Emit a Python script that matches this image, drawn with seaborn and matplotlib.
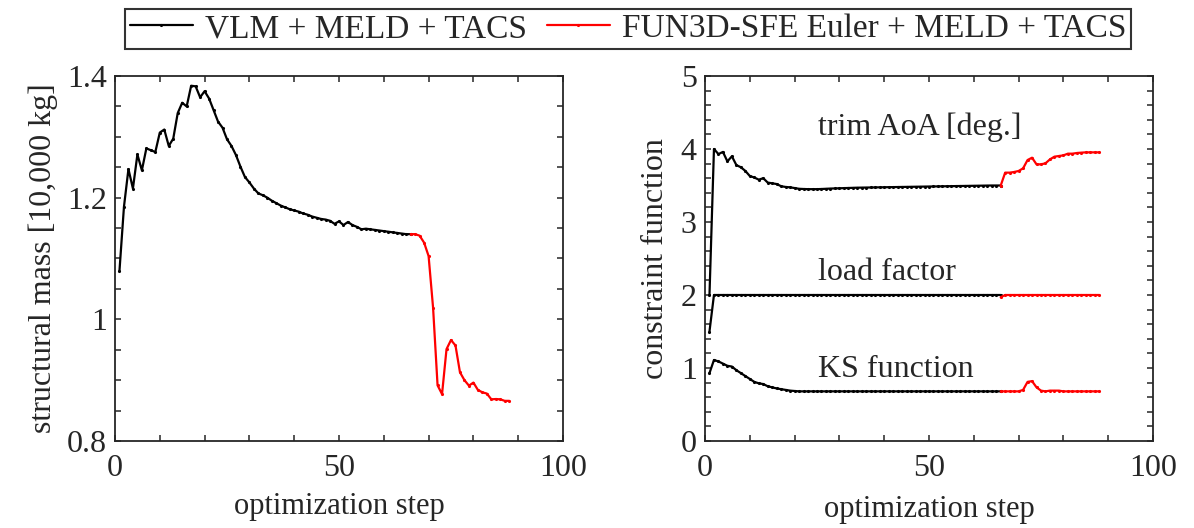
import numpy as np
import pandas as pd
import matplotlib
matplotlib.use("Agg")
import matplotlib.pyplot as plt
import seaborn as sns
from matplotlib.ticker import MultipleLocator

# ---------------- data ----------------
steps_vlm = list(range(1, 67))
steps_fun = list(range(66, 89))

mass_vlm = [1.080, 1.185, 1.247, 1.215, 1.271, 1.245, 1.281, 1.278, 1.275, 1.307,
            1.312, 1.285, 1.297, 1.339, 1.356, 1.350, 1.384, 1.383, 1.365, 1.375,
            1.363, 1.344, 1.325, 1.315, 1.296, 1.285, 1.270, 1.251, 1.234, 1.225,
            1.215, 1.207, 1.204, 1.200, 1.195, 1.191, 1.187, 1.184, 1.181, 1.179,
            1.177, 1.174, 1.172, 1.169, 1.167, 1.165, 1.164, 1.162, 1.157, 1.161,
            1.155, 1.160, 1.155, 1.152, 1.148, 1.149, 1.148, 1.147, 1.146, 1.145,
            1.144, 1.143, 1.142, 1.141, 1.140, 1.140]
mass_fun = [1.140, 1.140, 1.1375, 1.126, 1.104, 1.019, 0.8915, 0.877, 0.951, 0.966,
            0.957, 0.913, 0.900, 0.891, 0.896, 0.884, 0.880, 0.878, 0.8685, 0.869,
            0.8685, 0.866, 0.866]

aoa_vlm = [2.00, 4.00, 3.93, 3.96, 3.83, 3.90, 3.78, 3.75, 3.70, 3.63,
           3.61, 3.58, 3.60, 3.54, 3.53, 3.52, 3.49, 3.48, 3.475, 3.465,
           3.455, 3.452, 3.450, 3.450, 3.450, 3.452, 3.455, 3.458, 3.460, 3.462,
           3.464, 3.466, 3.468, 3.470, 3.471, 3.472, 3.473, 3.474, 3.475, 3.476,
           3.477, 3.478, 3.479, 3.480, 3.481, 3.482, 3.483, 3.484, 3.485, 3.486,
           3.487, 3.488, 3.489, 3.490, 3.491, 3.492, 3.493, 3.494, 3.495, 3.496,
           3.497, 3.498, 3.499, 3.500, 3.500, 3.500]
aoa_fun = [3.498, 3.676, 3.676, 3.685, 3.699, 3.735, 3.849, 3.881, 3.790, 3.790,
           3.804, 3.858, 3.895, 3.904, 3.913, 3.936, 3.936, 3.945, 3.950, 3.954,
           3.954, 3.954, 3.954]

load_vlm = [1.50] + [2.00] * 65
load_fun = [1.97] + [2.00] * 22

ks_vlm = [0.93, 1.11, 1.09, 1.06, 1.03, 1.02, 0.97, 0.93, 0.89, 0.85,
          0.81, 0.79, 0.78, 0.75, 0.735, 0.72, 0.71, 0.70, 0.69, 0.685,
          0.68, 0.68, 0.68, 0.68, 0.68, 0.68, 0.68, 0.68, 0.68, 0.68,
          0.68, 0.68, 0.68, 0.68, 0.68, 0.68, 0.68, 0.68, 0.68, 0.68,
          0.68, 0.68, 0.68, 0.68, 0.68, 0.68, 0.68, 0.68, 0.68, 0.68,
          0.68, 0.68, 0.68, 0.68, 0.68, 0.68, 0.68, 0.68, 0.68, 0.68,
          0.68, 0.68, 0.68, 0.68, 0.68, 0.68]
ks_fun = [0.68, 0.68, 0.68, 0.68, 0.68, 0.70, 0.81, 0.82, 0.735, 0.69,
          0.68, 0.69, 0.69, 0.69, 0.68, 0.68, 0.68, 0.68, 0.68, 0.68,
          0.68, 0.68, 0.68]

label_vlm = "VLM + MELD + TACS"
label_fun = "FUN3D-SFE Euler + MELD + TACS"

# ---------------- style ----------------
sns.set_style("ticks")
plt.rcParams["font.family"] = ["Liberation Serif", "DejaVu Serif"]
FS = 23

fig = plt.figure(figsize=(11.94, 5.28), dpi=100)
axL = fig.add_axes([115 / 1194, 1 - 441 / 528, 448 / 1194, 365 / 528])
axR = fig.add_axes([705 / 1194, 1 - 441 / 528, 448 / 1194, 365 / 528])

lw = 1.6
ms = 4.5
kw = dict(marker=".", markersize=ms, linewidth=lw, markeredgewidth=0)

df_mass_vlm = pd.DataFrame({"step": steps_vlm, "val": mass_vlm})
df_mass_fun = pd.DataFrame({"step": steps_fun, "val": mass_fun})

sns.lineplot(data=df_mass_vlm, x="step", y="val", ax=axL, color="black",
             label=label_vlm, **kw)
sns.lineplot(data=df_mass_fun, x="step", y="val", ax=axL, color="#ff0000",
             label=label_fun, **kw)

for yv, yf in [(aoa_vlm, aoa_fun), (load_vlm, load_fun), (ks_vlm, ks_fun)]:
    sns.lineplot(x=steps_vlm, y=yv, ax=axR, color="black", **kw)
    sns.lineplot(x=steps_fun, y=yf, ax=axR, color="#ff0000", **kw)

axL.set_xlim(0, 100)
axL.set_ylim(0.8, 1.4)
axL.set_xticks([0, 50, 100])
axL.set_yticks([0.8, 1.0, 1.2, 1.4])
axL.set_yticklabels(["0.8", "1", "1.2", "1.4"])
axL.xaxis.set_minor_locator(MultipleLocator(10))
axL.yaxis.set_minor_locator(MultipleLocator(0.05))
axL.set_xlabel("optimization step", fontsize=22, labelpad=7)
axL.set_ylabel("structural mass [10,000 kg]", fontsize=FS, labelpad=6)

axR.set_xlim(0, 100)
axR.set_ylim(0, 5)
axR.set_xticks([0, 50, 100])
axR.set_yticks([0, 1, 2, 3, 4, 5])
axR.xaxis.set_minor_locator(MultipleLocator(10))
axR.yaxis.set_minor_locator(MultipleLocator(0.2))
axR.set_xlabel("optimization step", fontsize=22, labelpad=9)
axR.set_ylabel("constraint function", fontsize=FS, labelpad=8)

axR.text(25.2, 4.19, "trim AoA [deg.]", fontsize=FS, ha="left", va="baseline")
axR.text(25.2, 2.205, "load factor", fontsize=FS, ha="left", va="baseline")
axR.text(25.2, 0.877, "KS function", fontsize=FS, ha="left", va="baseline")

for ax in (axL, axR):
    for s in ax.spines.values():
        s.set_visible(True)
        s.set_linewidth(1.3)
        s.set_color("#262626")
    ax.tick_params(which="both", direction="in", top=True, right=True,
                   length=4.5, width=1.1, color="#262626")
    ax.tick_params(axis="x", which="major", pad=9, labelsize=FS)
    ax.tick_params(axis="y", which="major", pad=6, labelsize=FS)
    ax.set_facecolor("white")

handles, labels = axL.get_legend_handles_labels()
axL.get_legend().remove()
leg = fig.legend(handles, labels, loc="upper center", ncol=2,
                 bbox_to_anchor=(628 / 1194, 0.99), fontsize=24,
                 frameon=True, fancybox=False, edgecolor="black",
                 handlelength=1.9, handletextpad=0.35, columnspacing=0.6,
                 borderpad=0.15, borderaxespad=0.1)
leg.get_frame().set_linewidth(1.5)

fig.savefig("out.png", dpi=100, facecolor="white")
